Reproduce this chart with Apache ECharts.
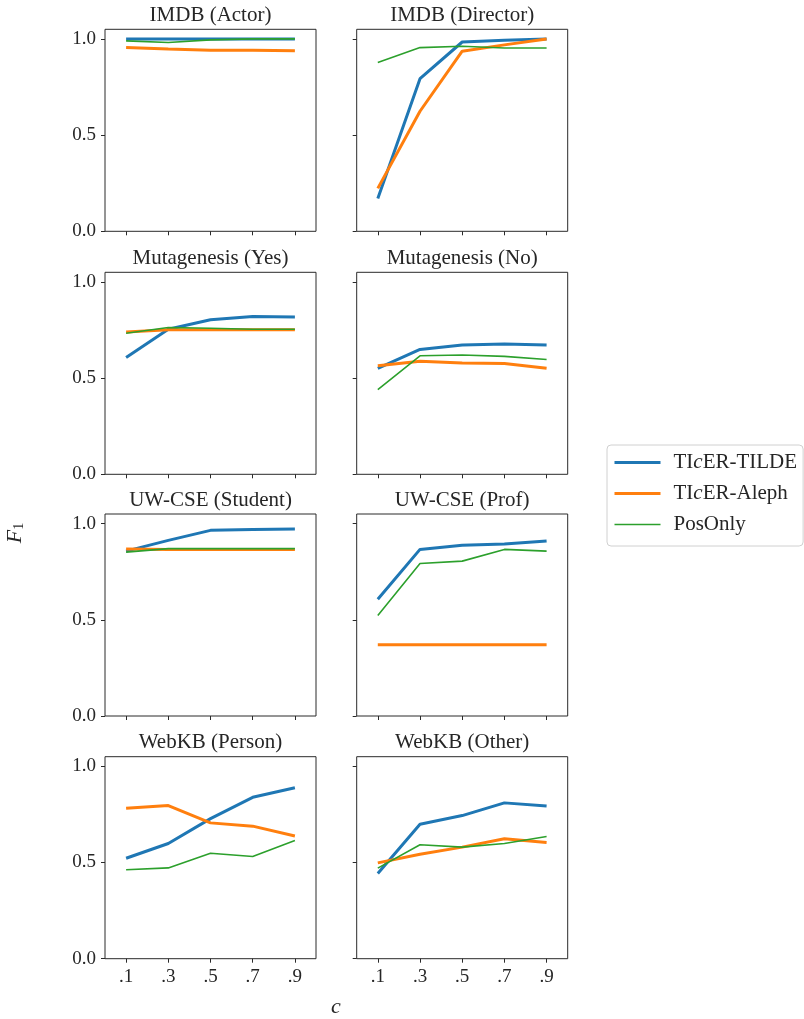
<!DOCTYPE html>
<html><head><meta charset="utf-8">
<script src="https://cdn.jsdelivr.net/npm/echarts@6/dist/echarts.min.js"></script>
<style>html,body{margin:0;padding:0;background:#fff}#c{width:804px;height:1019px}</style>
</head><body><div id="c"></div>
<script>
// ---- data ----
const cValues = [0.1, 0.3, 0.5, 0.7, 0.9];
const xTickLabels = ['.1', '.3', '.5', '.7', '.9'];
const yTicks = [0, 0.5, 1.0];
const yTickLabels = ['0.0', '0.5', '1.0'];
const seriesNames = ['TIcER-TILDE', 'TIcER-Aleph', 'PosOnly'];
const panelTitles = ['IMDB (Actor)', 'IMDB (Director)', 'Mutagenesis (Yes)', 'Mutagenesis (No)',
  'UW-CSE (Student)', 'UW-CSE (Prof)', 'WebKB (Person)', 'WebKB (Other)'];
const tildeF1 = [
  [1.0, 1.0, 1.0, 1.0, 1.0],
  [0.171, 0.793, 0.984, 0.993, 1.0],
  [0.607, 0.754, 0.803, 0.820, 0.817],
  [0.550, 0.649, 0.672, 0.677, 0.672],
  [0.857, 0.913, 0.965, 0.970, 0.972],
  [0.607, 0.866, 0.887, 0.894, 0.910],
  [0.522, 0.599, 0.728, 0.839, 0.889],
  [0.443, 0.699, 0.744, 0.810, 0.794]
];
const alephF1 = [
  [0.956, 0.948, 0.941, 0.941, 0.939],
  [0.223, 0.624, 0.936, 0.969, 1.0],
  [0.740, 0.752, 0.752, 0.752, 0.752],
  [0.564, 0.588, 0.578, 0.576, 0.551],
  [0.868, 0.866, 0.866, 0.866, 0.866],
  [0.370, 0.370, 0.370, 0.370, 0.370],
  [0.782, 0.796, 0.706, 0.689, 0.638],
  [0.498, 0.543, 0.580, 0.623, 0.604]
];
const posOnlyF1 = [
  [0.990, 0.981, 0.995, 1.0, 1.0],
  [0.878, 0.955, 0.962, 0.953, 0.953],
  [0.733, 0.763, 0.759, 0.754, 0.754],
  [0.440, 0.616, 0.620, 0.613, 0.597],
  [0.852, 0.870, 0.870, 0.870, 0.870],
  [0.523, 0.793, 0.805, 0.866, 0.857],
  [0.462, 0.472, 0.548, 0.531, 0.614],
  [0.471, 0.592, 0.580, 0.599, 0.635]
];

// ---- layout ----
const FONT = 'Liberation Serif';
const colLeft = [105, 356.7];
const rowTop = [29.3, 272.3, 514, 756.7];
const gW = 211, gH = 202;
const colors = ['#1f77b4', '#ff7f0e', '#2ca02c'];
const widths = [3, 3, 1.6];
const dataSets = [tildeF1, alephF1, posOnlyF1];

function lbl(vals, labels) {
  return function (v) {
    for (let i = 0; i < vals.length; i++) if (Math.abs(vals[i] - v) < 1e-6) return labels[i];
    return '';
  };
}

const grid = [], xAxis = [], yAxis = [], series = [], graphic = [];
for (let p = 0; p < 8; p++) {
  const r = Math.floor(p / 2), c = p % 2;
  grid.push({ left: colLeft[c], top: rowTop[r], width: gW, height: gH, show: true,
    borderColor: '#2a2a2a', borderWidth: 1, backgroundColor: 'transparent' });
  xAxis.push({ type: 'value', gridIndex: p, min: 0, max: 1,
    axisLine: { show: false }, splitLine: { show: false },
    axisTick: { show: true, customValues: cValues, length: 4, lineStyle: { color: '#2a2a2a' } },
    axisLabel: { show: r === 3, customValues: cValues, formatter: lbl(cValues, xTickLabels),
      margin: 9, fontFamily: FONT, fontSize: 19, color: '#262626' } });
  yAxis.push({ type: 'value', gridIndex: p, min: 0, max: 1.05,
    axisLine: { show: false }, splitLine: { show: false },
    axisTick: { show: true, customValues: yTicks, length: 4, lineStyle: { color: '#2a2a2a' } },
    axisLabel: { show: c === 0, customValues: yTicks, formatter: lbl(yTicks, yTickLabels),
      margin: 9, fontFamily: FONT, fontSize: 19, color: '#262626' } });
  for (let s = 0; s < 3; s++) {
    series.push({ type: 'line', name: seriesNames[s], xAxisIndex: p, yAxisIndex: p,
      data: cValues.map((x, j) => [x, dataSets[s][p][j]]),
      symbol: 'none', silent: true, animation: false, z: 2 + s,
      lineStyle: { color: colors[s], width: widths[s] }, itemStyle: { color: colors[s] } });
  }
  graphic.push({ type: 'text', x: colLeft[c] + gW / 2, y: rowTop[r] - 14,
    style: { text: panelTitles[p], fontFamily: FONT, fontSize: 21, fill: '#262626',
      textAlign: 'center', textVerticalAlign: 'middle' } });
}

graphic.push({ type: 'text', x: 15, y: 533, rotation: Math.PI / 2, style: {
  text: '{f|F}{s|1}', textAlign: 'center', textVerticalAlign: 'middle',
  rich: { f: { fontFamily: FONT, fontStyle: 'italic', fontSize: 22, fill: '#262626' },
          s: { fontFamily: FONT, fontSize: 14, fill: '#262626', padding: [9, 0, 0, 0] } } } });
graphic.push({ type: 'text', x: 336, y: 1007, style: {
  text: 'c', fontFamily: FONT, fontStyle: 'italic', fontSize: 22, fill: '#262626',
  textAlign: 'center', textVerticalAlign: 'middle' } });

const chart = echarts.init(document.getElementById('c'), null, { renderer: 'canvas' });
chart.setOption({
  animation: false,
  grid, xAxis, yAxis, series, graphic,
  legend: {
    orient: 'vertical', left: 607, top: 445,
    padding: [7, 6, 11, 6], itemGap: 10, itemWidth: 46, itemHeight: 19,
    borderColor: '#d0d0d0', borderWidth: 1, borderRadius: 4, backgroundColor: '#fff',
    selectedMode: false,
    data: seriesNames.map((n, i) => ({ name: n,
      itemStyle: { opacity: 0, borderWidth: 0 },
      lineStyle: { color: colors[i], width: widths[i] } })),
    formatter: function (name) {
      if (name.indexOf('TIcER') === 0) return '{g|}{r|TI}{i|c}{r|ER' + name.slice(5) + '}';
      return '{g|}{r|' + name + '}';
    },
    textStyle: { fontFamily: FONT, fontSize: 21, color: '#262626',
      rich: { g: { width: 8 },
              r: { fontFamily: FONT, fontSize: 21, color: '#262626' },
              i: { fontFamily: FONT, fontSize: 21, fontStyle: 'italic', color: '#262626' } } }
  }
});
</script></body></html>
